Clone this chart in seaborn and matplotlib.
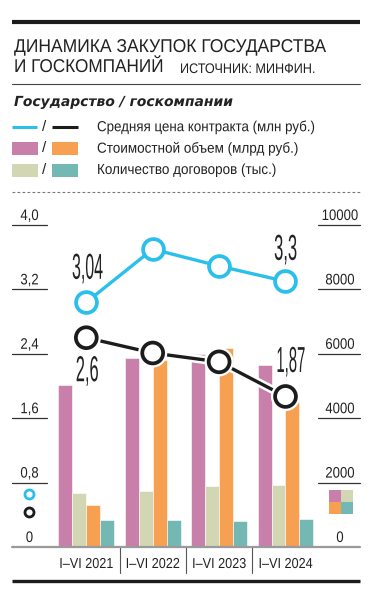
import numpy as np
import pandas as pd
import matplotlib
matplotlib.use("Agg")
import matplotlib.pyplot as plt
import seaborn as sns
import matplotlib.patheffects as pe
import matplotlib.transforms as mtransforms
from matplotlib.patches import Rectangle

# ---------------- data ----------------
periods = ["I–VI 2021", "I–VI 2022", "I–VI 2023", "I–VI 2024"]
price_gov = [3.04, 3.70, 3.49, 3.30]      # avg contract price, state (mln rub)
price_corp = [2.60, 2.41, 2.30, 1.87]     # avg contract price, state companies
volume_gov = [5030, 5870, 5980, 5660]     # value, state (bln rub)
volume_corp = [1300, 5800, 6190, 4500]    # value, state companies
count_gov = [1690, 1740, 1890, 1920]      # number of contracts, state (thou)
count_corp = [840, 840, 810, 860]         # number of contracts, state companies
gov_labels = {0: "3,04", 3: "3,3"}
corp_labels = {0: "2,6", 3: "1,87"}
left_ticks = [0, 0.8, 1.6, 2.4, 3.2, 4.0]
left_tick_labels = ["0", "0,8", "1,6", "2,4", "3,2", "4,0"]
right_ticks = [0, 2000, 4000, 6000, 8000, 10000]
right_tick_labels = ["0", "2000", "4000", "6000", "8000", "10000"]

series_order = ["volume_gov", "count_gov", "volume_corp", "count_corp"]
series_values = {"volume_gov": volume_gov, "count_gov": count_gov,
                 "volume_corp": volume_corp, "count_corp": count_corp}

PINK = "#c87fa9"
GREEN = "#d3d6b3"
ORANGE = "#f7a052"
TEAL = "#74b8b4"
BLUE = "#2bbfec"
BLACK = "#1c1c1c"
TXT = "#222222"

sns.set_style("white")
plt.rcParams["font.family"] = ["Liberation Sans", "DejaVu Sans"]


class Condense(pe.AbstractPathEffect):
    """Draw a text's glyph outlines squeezed horizontally (condensed face look)."""
    def __init__(self, sx, anchor):
        super().__init__()
        self.sx = sx
        self.anchor = anchor

    def draw_path(self, renderer, gc, tpath, affine, rgbFace=None):
        v = tpath.vertices
        if self.anchor == "center" and len(v):
            cx = (v[:, 0].min() + v[:, 0].max()) / 2
        else:
            cx = 0
        a = mtransforms.Affine2D().translate(-cx, 0).scale(self.sx, 1).translate(cx, 0) + affine
        renderer.draw_path(gc, tpath, a, rgbFace)


W, H = 372, 600
fig = plt.figure(figsize=(W / 100, H / 100), dpi=100)
renderer = fig.canvas.get_renderer()


def condense(t, sx=None, target=None, limit=None):
    """Condense text t horizontally, by factor sx or to `target` px width.
    If `limit` is given, the font size is first reduced so that the
    un-condensed text is no wider than `limit` px."""
    if limit is not None:
        for _ in range(4):
            w = t.get_window_extent(renderer).width
            if w <= limit:
                break
            t.set_fontsize(t.get_fontsize() * limit / w * 0.995)
    if sx is None:
        sx = min(1.0, target / t.get_window_extent(renderer).width)
    anchor = "center" if t.get_horizontalalignment() == "center" else "left"
    t.set_path_effects([Condense(sx, anchor)])
    return t


# main axes: x from 12 to 360 px, y from 547 (0) to 225 (max)
ax = fig.add_axes([12 / W, (H - 547) / H, 348 / W, 322 / H])

df = pd.DataFrame({
    "period": [p for s in series_order for p in periods],
    "series": [s for s in series_order for p in periods],
    "value": [v for s in series_order for v in series_values[s]],
})
sns.barplot(data=df, x="period", y="value", hue="series", hue_order=series_order,
            palette=[PINK, GREEN, ORANGE, TEAL], width=0.843, gap=0, errorbar=None,
            saturation=1, edgecolor="white", linewidth=0.4, legend=False, ax=ax)
XL = (-1.119, 4.122)
ax.set_xlim(*XL)
ax.set_ylim(0, 10000)
ax.set_axis_off()

ax2 = ax.twinx()
ax2.set_xlim(*XL)
ax2.set_ylim(0, 4.0)
ax2.set_axis_off()

xpos = np.arange(len(periods))
sns.lineplot(x=xpos, y=price_gov, ax=ax2, color=BLUE, linewidth=2.4, marker="o",
             markersize=15, markerfacecolor="white", markeredgecolor=BLUE,
             markeredgewidth=2.7, zorder=5)
sns.lineplot(x=xpos, y=price_corp, ax=ax2, color=BLACK, linewidth=2.4, marker="o",
             markersize=15, markerfacecolor="white", markeredgecolor=BLACK,
             markeredgewidth=2.7, zorder=5,
             path_effects=[pe.Stroke(linewidth=6, foreground="white"), pe.Normal()])

lab_kw = dict(textcoords="offset pixels", ha="center", va="center",
              fontsize=26, color=TXT, zorder=6)
offs_gov = {0: (1.5, 33), 3: (0.5, 31)}
offs_corp = {0: (1.5, -34), 3: (6, 34)}
widths = {"3,04": 31, "3,3": 23, "2,6": 23, "1,87": 29}
for i, s in gov_labels.items():
    t = ax2.annotate(s, (xpos[i], price_gov[i]), xytext=offs_gov[i], **lab_kw)
    condense(t, target=widths[s])
for i, s in corp_labels.items():
    t = ax2.annotate(s, (xpos[i], price_corp[i]), xytext=offs_corp[i], **lab_kw)
    condense(t, target=widths[s])

# ticks: short segments at both sides with labels above
tl = mtransforms.blended_transform_factory(ax2.transAxes, ax2.transData)
tr = mtransforms.blended_transform_factory(ax.transAxes, ax.transData)
for v, s in zip(left_ticks, left_tick_labels):
    if v > 0:
        ax2.plot([0, 35 / 348], [v, v], transform=tl, color="#333333", lw=0.9, clip_on=False)
    t = ax2.annotate(s, (17.5 / 348, v), xycoords=tl, xytext=(0, 5), textcoords="offset pixels",
                     ha="center", va="baseline", fontsize=11, color=TXT)
    condense(t, sx=0.86)
for v, s in zip(right_ticks, right_tick_labels):
    if v > 0:
        ax.plot([306 / 348, 1], [v, v], transform=tr, color="#333333", lw=0.9, clip_on=False)
    t = ax.annotate(s, (328 / 348, v), xycoords=tr, xytext=(0, 5), textcoords="offset pixels",
                    ha="center", va="baseline", fontsize=11, color=TXT)
    condense(t, sx=0.86)

# baseline and category separators
ax.plot([0, 1], [0, 0], transform=tr, color="#9a9a9a", lw=1.6, clip_on=False, zorder=4)
tc = mtransforms.blended_transform_factory(ax.transData, ax.transAxes)
for b in np.arange(len(periods) - 1) + 0.5:
    ax.plot([b, b], [0, -26 / 322], transform=tc, color="#555555", lw=0.8, clip_on=False)
for i, p in enumerate(periods):
    t = ax.annotate(p, (xpos[i], 0), xycoords=tc, xytext=(0, -17), textcoords="offset pixels",
                    ha="center", va="center", fontsize=11, color=TXT)
    condense(t, target=54, limit=62)

# ---------------- overlay for header/legend ----------------
ov = fig.add_axes([0, 0, 1, 1], zorder=-1)
ov.set_xlim(0, W)
ov.set_ylim(H, 0)
ov.set_axis_off()

ov.plot([12, 360], [21.5, 21.5], color=BLACK, lw=3.0, solid_capstyle="butt")
t2 = ov.text(14, 72, "И ГОСКОМПАНИЙ", fontsize=15, color=TXT, va="baseline")
condense(t2, target=149, limit=163)
t1 = ov.text(14, 52, "ДИНАМИКА ЗАКУПОК ГОСУДАРСТВА", fontsize=t2.get_fontsize(),
             color=TXT, va="baseline")
condense(t1, target=311, limit=352)
t = ov.text(180, 73, "ИСТОЧНИК: МИНФИН.", fontsize=10, color=TXT, va="baseline")
condense(t, target=135, limit=175)
ov.plot([12, 360], [84, 84], color="#444444", lw=0.8)
t = ov.text(14, 106, "Государство / госкомпании", fontsize=10, color=TXT, va="baseline",
            family="DejaVu Sans", weight="bold", style="italic")
condense(t, target=224)

rows = [127, 148.5, 170]
ov.plot([12, 37], [rows[0]] * 2, color=BLUE, lw=2.2, solid_capstyle="butt")
ov.plot([52, 78], [rows[0]] * 2, color=BLACK, lw=2.2, solid_capstyle="butt")
for y, (c1, c2) in zip(rows[1:], [(PINK, ORANGE), (GREEN, TEAL)]):
    ov.add_patch(Rectangle((12, y - 6.5), 26, 13, color=c1, lw=0))
    ov.add_patch(Rectangle((52, y - 6.5), 26, 13, color=c2, lw=0))
for y in rows:
    ov.text(44.5, y, "/", fontsize=11, color=TXT, ha="center", va="center")
legend_texts = ["Средняя цена контракта (млн руб.)", "Стоимостной объем (млрд руб.)",
                "Количество договоров (тыс.)"]
legend_widths = [219, 202, 180]
for y, s, w in zip(rows, legend_texts, legend_widths):
    t = ov.text(97, y, s, fontsize=10.5, color=TXT, va="center")
    condense(t, target=w, limit=265)
ov.plot([12, 360], [192, 192], color="#777777", lw=0.8, ls=(0, (2.5, 2)))

# side keys
ov.plot([29], [494], marker="o", ms=6.5, mfc="white", mec=BLUE, mew=2)
ov.plot([29], [512], marker="o", ms=6.5, mfc="white", mec=BLACK, mew=2)
for (x, y, c) in [(329, 490, PINK), (341, 490, GREEN), (329, 502, ORANGE), (341, 502, TEAL)]:
    ov.add_patch(Rectangle((x, y), 12, 12, color=c, lw=0))

ov.plot([12, 360], [581, 581], color=BLACK, lw=2.4, solid_capstyle="butt")

fig.savefig("out.png", dpi=100)
